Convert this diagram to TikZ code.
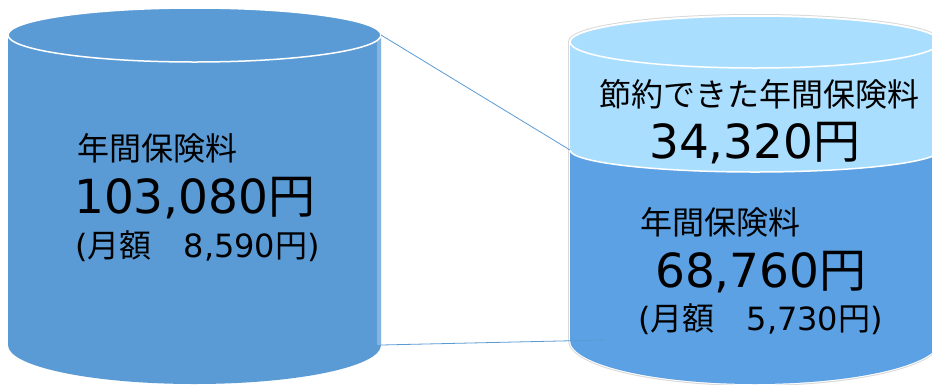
\documentclass[tikz,border=0pt]{standalone}
\usepackage{fontspec}
\setmainfont{DejaVu Sans}
\newfontfamily\jpfont{Noto Sans CJK JP}
\newcommand\ja[1]{{\jpfont #1}}
\definecolor{leftblue}{RGB}{91,155,213}
\definecolor{rightblue}{RGB}{91,161,227}
\definecolor{paleblue}{RGB}{170,222,255}
\tikzset{
    midtext/.style={anchor=base west, inner sep=0pt, font=\fontsize{32}{32}\selectfont},
    bigtext/.style={anchor=base west, inner sep=0pt, font=\fontsize{47}{47}\selectfont},
    rim/.style={draw=white, line width=1.5pt}
}
\begin{document}
\begin{tikzpicture}[x=1pt, y=1pt]
                \clip (0,0) rectangle (932,-384);
                \fill[white] (0,0) rectangle (932,-384);

                \fill[leftblue] (8,-35) -- (8,-345) arc[start angle=180, end angle=360, x radius=186.5, y radius=39]
                    -- (381,-35) arc[start angle=0, end angle=180, x radius=186.5, y radius=27] -- cycle;
                \fill[leftblue!75!white] (377,-35) rectangle (381,-345);
                \fill[leftblue, rim] (194.5,-35) ellipse[x radius=186.5, y radius=27];

                \draw[gray!30, line width=4pt] (570,-42) -- (570,-340) arc[start angle=180, end angle=360, x radius=185, y radius=44]
                    -- (940,-42) arc[start angle=0, end angle=180, x radius=185, y radius=26] -- cycle;
                \draw[white, line width=2pt] (570,-42) -- (570,-340) arc[start angle=180, end angle=360, x radius=185, y radius=44]
                    -- (940,-42) arc[start angle=0, end angle=180, x radius=185, y radius=26] -- cycle;
                \fill[rightblue] (570,-150) -- (570,-340) arc[start angle=180, end angle=360, x radius=185, y radius=44]
                    -- (940,-150) arc[start angle=0, end angle=-180, x radius=185, y radius=22] -- cycle;
                \fill[paleblue] (570,-42) -- (570,-150) arc[start angle=180, end angle=360, x radius=185, y radius=22]
                    -- (940,-42) arc[start angle=0, end angle=180, x radius=185, y radius=26] -- cycle;
                \draw[rim] (570,-150) arc[start angle=180, end angle=360, x radius=185, y radius=22];
                \fill[paleblue, rim] (755,-42) ellipse[x radius=185, y radius=26];

                \coordinate (LT) at (381,-35);
                \coordinate (LB) at (381,-345);
                \coordinate (RT) at (570,-150);
                \coordinate (RB) at (604,-340);
                \draw[leftblue, line width=0.8pt] (LT) -- (RT);
                \draw[leftblue, line width=0.8pt] (LB) -- (RB);

                \node[midtext] (A) at (77,-160) {\ja{年間保険料}};
                \node[bigtext] (B) at (74,-213) {103,080\ja{円}};
                \node[midtext] (C) at (75,-257) {(\ja{月額　}8,590\ja{円})};
                \node[midtext] (D) at (599,-106) {\ja{節約できた年間保険料}};
                \node[bigtext] (E) at (649,-158) {34,320\ja{円}};
                \node[midtext] (F) at (640,-234) {\ja{年間保険料}};
                \node[bigtext] (G) at (655,-287) {68,760\ja{円}};
                \node[midtext] (H) at (638,-330) {(\ja{月額　}5,730\ja{円})};
            \end{tikzpicture}
\end{document}
